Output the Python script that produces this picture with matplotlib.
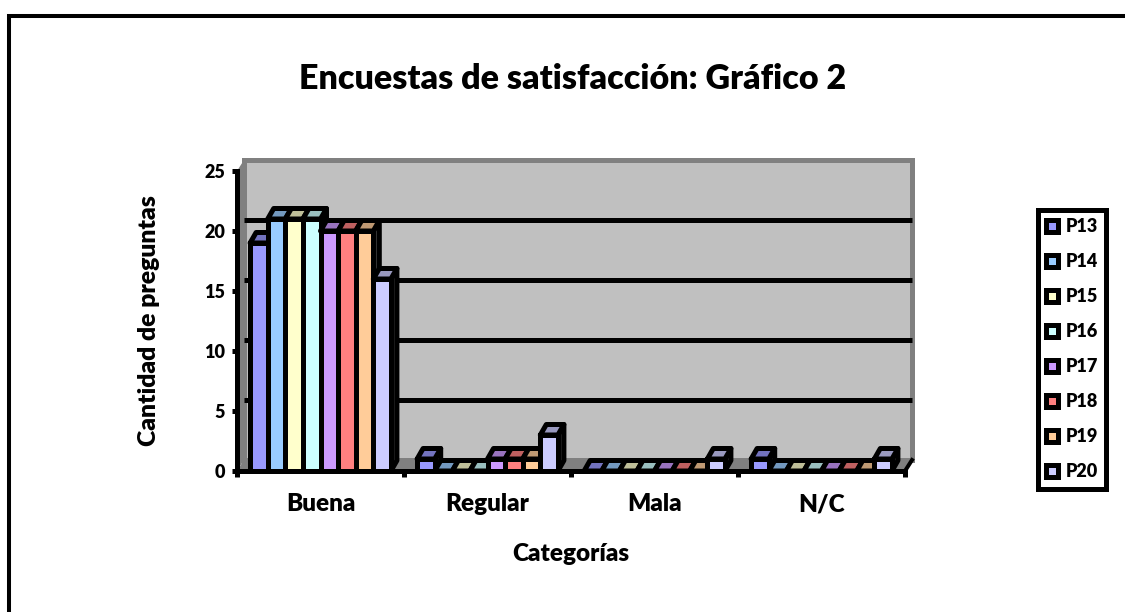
import matplotlib

matplotlib.use("Agg")

import matplotlib.pyplot as plt
import numpy as np
from matplotlib.patches import Patch, Polygon, Rectangle

WEIGHT = "heavy"
plt.rcParams["font.family"] = ["Lato", "DejaVu Sans"]
plt.rcParams["font.weight"] = WEIGHT

categories = ["Buena", "Regular", "Mala", "N/C"]
series_names = ["P13", "P14", "P15", "P16", "P17", "P18", "P19", "P20"]
p13 = [19, 1, 0, 1]
p14 = [21, 0, 0, 0]
p15 = [21, 0, 0, 0]
p16 = [21, 0, 0, 0]
p17 = [20, 1, 0, 0]
p18 = [20, 1, 0, 0]
p19 = [20, 1, 0, 0]
p20 = [16, 3, 1, 1]
series_values = [p13, p14, p15, p16, p17, p18, p19, p20]
colors = ["#9999FF", "#99CCFF", "#FFFFCC", "#CCFFFF", "#CC99FF", "#FF8080", "#FFCC99", "#CCCCFF"]
top_colors = ["#7373BF", "#7399BF", "#BFBF99", "#99BFBF", "#9973BF", "#BF6060", "#BF9973", "#9999BF"]
y_ticks = [0, 5, 10, 15, 20, 25]

W, H = 1125, 612
LW = 3.6  # 5 px at dpi 100

# one pixel in data units of the front plane
PX = 4 / 668
PY = 25 / 300
WALL_DX, WALL_DY = 7 * PX, 11 * PY
BAR_DX, BAR_DY = 6 * PX, 10.5 * PY
BAR_W = 17.6 * PX

fig = plt.figure(figsize=(W / 100, H / 100), dpi=100, facecolor="white")

# outer chart frame, open on the right and at the bottom
frame = fig.add_axes([0, 0, 1, 1], zorder=0)
frame.set_xlim(0, W)
frame.set_ylim(H, 0)
frame.axis("off")
frame.plot([9, 9, W + 5], [H + 5, 16, 16], color="black", lw=2.9, solid_joinstyle="miter")

ax = fig.add_axes([237 / W, 1 - 471 / H, 668 / W, 300 / H], zorder=1)
ax.set_xlim(0, 4)
ax.set_ylim(0, 25)
ax.patch.set_visible(False)

# back wall, side wall and floor
ax.add_patch(Polygon([(0, 0), (WALL_DX, WALL_DY), (WALL_DX, 25 + WALL_DY), (0, 25)],
                     facecolor="#808080", edgecolor="none", clip_on=False, zorder=1))
ax.add_patch(Polygon([(0, 0), (4, 0), (4 + WALL_DX, WALL_DY), (WALL_DX, WALL_DY)],
                     facecolor="#808080", edgecolor="none", clip_on=False, zorder=1))
ax.add_patch(Rectangle((WALL_DX, WALL_DY), 4, 25, facecolor="#C0C0C0", edgecolor="#808080",
                       lw=LW, clip_on=False, zorder=1.5))
for tick in y_ticks[1:-1]:
    ax.plot([WALL_DX, 4 + WALL_DX], [tick + WALL_DY] * 2, color="black", lw=LW,
            solid_capstyle="butt", clip_on=False, zorder=2)
ax.plot([4, 4 + WALL_DX], [0, WALL_DY], color="black", lw=LW * 0.8, clip_on=False, zorder=2)

# 3D-looking bars, left to right so each one covers the side of the previous
n_series = len(series_values)
x0 = np.arange(len(categories)) + 0.5 - n_series * BAR_W / 2
zorder = 3
for c in range(len(categories)):
    for s in range(n_series):
        left = x0[c] + s * BAR_W
        right = left + BAR_W
        v = series_values[s][c]
        ax.add_patch(Polygon([(right, 0), (right + BAR_DX, BAR_DY), (right + BAR_DX, v + BAR_DY), (right, v)],
                             facecolor="#404040", edgecolor="black", lw=LW, joinstyle="round",
                             clip_on=False, zorder=zorder))
        ax.add_patch(Polygon([(left, v), (right, v), (right + BAR_DX, v + BAR_DY), (left + BAR_DX, v + BAR_DY)],
                             facecolor=top_colors[s], edgecolor="black", lw=LW, joinstyle="round",
                             clip_on=False, zorder=zorder))
        ax.bar(left, v, width=BAR_W, align="edge", color=colors[s], edgecolor="black", lw=LW,
               clip_on=False, zorder=zorder + 0.5)
        zorder += 1

for name in ("top", "right"):
    ax.spines[name].set_visible(False)
for name in ("left", "bottom"):
    ax.spines[name].set_linewidth(LW)
    ax.spines[name].set_zorder(500)
ax.set_yticks(y_ticks)
ax.set_xticks(range(5))
ax.set_xticklabels([])
ax.set_xticks(np.arange(4) + 0.5, categories, minor=True)
ax.tick_params(axis="x", which="major", length=4.5, width=LW)
ax.tick_params(axis="x", which="minor", length=0, labelsize=17.5, pad=16)
ax.tick_params(axis="y", length=3.6, width=LW, labelsize=13, pad=5)
for label in ax.get_yticklabels() + ax.get_xticklabels(minor=True):
    label.set_fontweight(WEIGHT)

ax.set_ylabel("Cantidad de preguntas", fontsize=17.8, fontweight=WEIGHT, labelpad=32)
ax.set_xlabel("Categorías", fontsize=17.5, fontweight=WEIGHT, labelpad=20)
fig.text(573 / W, 1 - 79 / H, "Encuestas de satisfacción: Gráfico 2", fontsize=24.5, fontweight=WEIGHT,
         ha="center", va="center")

handles = [Patch(facecolor=col, edgecolor="black", lw=LW, joinstyle="round") for col in colors]
legend = fig.legend(handles, series_names, loc="upper left", bbox_to_anchor=(1037.5 / W, 1 - 209.5 / H),
                    borderaxespad=0, fontsize=13, handlelength=0.67, handleheight=0.67,
                    handletextpad=0.4, labelspacing=1.0, borderpad=0.47, fancybox=False,
                    framealpha=1, edgecolor="black")
legend.get_frame().set_linewidth(LW)

fig.savefig("out.png", dpi=100)
